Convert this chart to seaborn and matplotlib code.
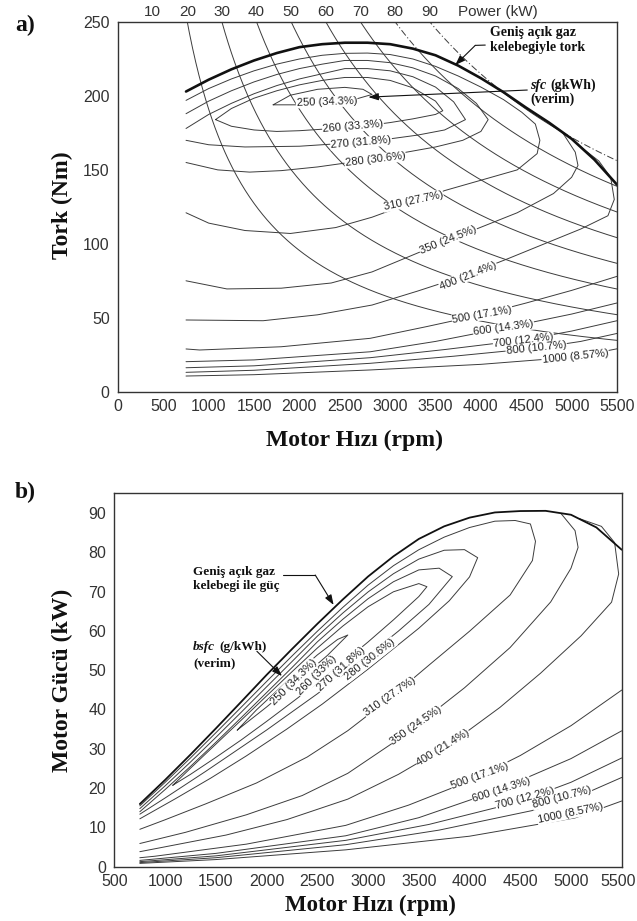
import numpy as np
import matplotlib
matplotlib.use("Agg")
import matplotlib.pyplot as plt
import seaborn as sns

sns.set_theme(style="white")
plt.rcParams["font.family"] = ["Liberation Sans", "DejaVu Sans"]
SERIF = ["Liberation Serif", "DejaVu Serif"]

# tam acik gaz kelebegi torku (rpm, Nm)
WOT_RPM = [750, 1000, 1250, 1500, 1750, 2000, 2250, 2500, 2750, 3000, 3250, 3500,
           3750, 4000, 4250, 4500, 4750, 5000, 5250, 5500]
WOT_NM = [203, 211, 218, 224, 229, 233, 235, 236, 236, 235, 232, 227.5,
          220.5, 212, 202.5, 192, 182, 171, 157, 140]

# sabit guc egrileri (kW)
POWER_KW = [20, 30, 40, 50, 60, 70, 80, 90]
POWER_TICKS = [10, 20, 30, 40, 50, 60, 70, 80, 90]

# bsfc egrileri, tork-hiz duzleminde (rpm, Nm)
C250_RPM = [1710, 1900, 2200, 2500, 2700, 2800, 2600, 2300, 2000, 1710]
C250_NM = [194, 200.5, 204.5, 205.8, 204.5, 201, 197.5, 195.5, 194, 194]

C260_RPM = [1075, 1250, 1500, 1750, 2000, 2250, 2500, 2750, 3000, 3250, 3500, 3580,
            3500, 3250, 3000, 2750, 2500, 2250, 2000, 1750, 1500, 1250, 1075]
C260_NM = [184, 191.5, 198.5, 203.5, 207.5, 210.5, 212.5, 212.5, 210.5, 205.5, 196.5, 190,
           187.5, 184.5, 182, 180, 178.5, 177.5, 176.5, 176, 177, 179.5, 184]

C270_RPM = [750, 1000, 1250, 1500, 1750, 2000, 2250, 2500, 2750, 3000, 3250, 3500, 3700,
            3830, 3600, 3300, 3000, 2500, 2000, 1400, 1000, 750]
C270_NM = [178, 187.5, 195, 201.5, 207, 211.5, 215, 218.5, 218.5, 217, 213, 206, 196,
           184, 177, 173.5, 171, 168, 166, 165.5, 167, 170]

C280_RPM = [750, 1000, 1250, 1500, 1750, 2000, 2250, 2500, 2750, 3000, 3250, 3500, 3750, 3950,
            4080, 4000, 3800, 3500, 3000, 2550, 2200, 1800, 1450, 1100, 750]
C280_NM = [188, 196.5, 203.5, 209.5, 214.5, 218.5, 221.5, 224, 224, 222.5, 219, 213.5, 205, 195,
           184, 176, 170, 165.5, 160, 155, 152, 149.5, 148.5, 150, 155]

C310_RPM = [750, 1000, 1250, 1500, 1750, 2000, 2250, 2500, 2750, 3000, 3250, 3500, 3750, 4000,
            4250, 4450, 4600, 4650, 4620, 4400, 4000, 3600, 3200, 2800, 2400, 1900, 1400,
            1000, 750]
C310_NM = [197, 205, 211.5, 217, 221.5, 225, 227.5, 228.8, 229, 228, 225, 220, 213.5, 206,
           197.5, 189, 181, 170, 161, 150, 143, 136, 127, 118, 111, 107, 109, 114, 121]

C350_RPM = [750, 1200, 1800, 2350, 2800, 3350, 3950, 4400, 4800, 5000, 5070, 5040, 4900]
C350_NM = [75, 69.5, 70, 73.5, 81, 95, 110, 121, 134, 145, 153, 162, 175.2]

C400_RPM = [750, 1600, 2200, 2800, 3300, 3800, 4300, 4700, 5100, 5400, 5470, 5430, 5300, 5080]
C400_NM = [48.5, 48, 52, 58.6, 68, 78, 90, 100, 110, 119, 130, 145, 156, 166.5]

C500_RPM = [750, 900, 1800, 2780, 3400, 4000, 4500, 5000, 5500]
C500_NM = [28.9, 28.2, 30.4, 36.1, 44, 52, 60, 68.5, 78]
C600_RPM = [750, 1500, 2780, 3500, 4250, 5000, 5500]
C600_NM = [20.3, 21.5, 27, 34, 43, 52.5, 60]
C700_RPM = [750, 1500, 2780, 3600, 4475, 5000, 5500]
C700_NM = [16.2, 17.5, 23, 28.5, 35, 41, 48]
C800_RPM = [750, 1500, 2780, 3700, 4615, 5100, 5500]
C800_NM = [13.1, 14.5, 19.2, 24, 29.5, 34, 39.4]
C1000_RPM = [750, 1500, 2780, 4000, 5040, 5500]
C1000_NM = [10.6, 11.5, 14.7, 18.5, 23.5, 29]

CONTOURS = [(C250_RPM, C250_NM), (C260_RPM, C260_NM), (C270_RPM, C270_NM),
            (C280_RPM, C280_NM), (C310_RPM, C310_NM), (C350_RPM, C350_NM),
            (C400_RPM, C400_NM), (C500_RPM, C500_NM), (C600_RPM, C600_NM),
            (C700_RPM, C700_NM), (C800_RPM, C800_NM), (C1000_RPM, C1000_NM)]

# egri etiketleri
LABELS_A = ["250 (34.3%)", "260 (33.3%)", "270 (31.8%)", "280 (30.6%)", "310 (27.7%)",
            "350 (24.5%)", "400 (21.4%)", "500 (17.1%)", "600 (14.3%)", "700 (12.4%)",
            "800 (10.7%)", "1000 (8.57%)"]
LABEL_A_RPM = [2300, 2590, 2680, 2835, 3255, 3640, 3860, 4015, 4250, 4470, 4610, 5040]
LABEL_A_NM = [196, 179.5, 168.5, 157, 129, 102.5, 78.5, 52, 43, 34.5, 29.5, 23.5]
LABEL_A_ROT = [2, 5, 5, 7, 12, 22, 22, 10, 8, 7, 6, 6]

LABELS_B = ["250 (34.3%)", "260 (33%)", "270 (31.8%)", "280 (30.6%)", "310 (27.7%)",
            "350 (24.5%)", "400 (21.4%)", "500 (17.1%)", "600 (14.3%)", "700 (12.2%)",
            "800 (10.7%)", "1000 (8.57%)"]
LABEL_B_RPM = [2265, 2496, 2733, 3022, 3212, 3475, 3738, 4100, 4311, 4550, 4912, 4994]
LABEL_B_KW = [47.0, 48.6, 50.2, 52.7, 43.3, 36.0, 30.3, 23.2, 19.6, 17.4, 17.6, 13.6]
LABEL_B_ROT = [45, 45, 42, 38, 35, 35, 32, 20, 18, 15, 15, 12]

B_XTICKS = [500, 1000, 1500, 2000, 2500, 3000, 3500, 4000, 4500, 5000, 5500]

LINE = "#3c3c3c"
AXC = "#333333"
INK = "#111111"


def to_kw(rpm, nm):
    return np.asarray(nm, float) * np.asarray(rpm, float) / 9549.0


def draw(ax, x, y, lw=0.7, color=LINE, ls="-"):
    sns.lineplot(x=np.asarray(x, float), y=np.asarray(y, float), ax=ax, sort=False,
                 estimator=None, color=color, lw=lw, linestyle=ls, legend=False)


def arrow(ax, tip, tail):
    ax.annotate("", xy=tip, xytext=tail,
                arrowprops=dict(arrowstyle="-|>,head_length=0.5,head_width=0.18",
                                color=INK, lw=0.8, shrinkA=0, shrinkB=0))


def style_axes(ax):
    for sp in ax.spines.values():
        sp.set_color(AXC)
        sp.set_linewidth(1.0)
    ax.tick_params(axis="x", direction="in", length=4, width=0.8, colors=AXC,
                   labelsize=11.5, pad=5)
    ax.tick_params(axis="y", direction="out", length=4, width=0.8, colors=AXC,
                   labelsize=11.5, pad=2)
    ax.set_xlabel("")
    ax.set_ylabel("")


box = dict(boxstyle="square,pad=0.05", fc="white", ec="none")

fig = plt.figure(figsize=(6.37, 9.21), dpi=100)
ax1 = fig.add_axes([0.1852, 0.5747, 0.7834, 0.4014])
ax2 = fig.add_axes([0.1797, 0.0590, 0.7963, 0.4054])

# ---------------- a) tork - hiz ----------------
n = np.linspace(750, 5500, 400)
wot_at_n = np.interp(n, WOT_RPM, WOT_NM)
for p in POWER_KW:
    t = p * 9549.0 / n
    if p < 80:
        draw(ax1, n, t)
        continue
    above = t > wot_at_n
    edges = np.flatnonzero(np.diff(np.r_[0, above.astype(int), 0]))
    for s, e in zip(edges[::2], edges[1::2]):
        draw(ax1, n[max(s - 1, 0):e + 1], t[max(s - 1, 0):e + 1], ls=(0, (7, 2.5, 1.2, 2.5)))
    edges = np.flatnonzero(np.diff(np.r_[0, (~above).astype(int), 0]))
    for s, e in zip(edges[::2], edges[1::2]):
        draw(ax1, n[s:e], t[s:e])

for rpm, nm in CONTOURS:
    draw(ax1, rpm, nm)
draw(ax1, WOT_RPM, WOT_NM, lw=1.9, color=INK)

for txt, x, y, r in zip(LABELS_A, LABEL_A_RPM, LABEL_A_NM, LABEL_A_ROT):
    ax1.text(x, y, txt, fontsize=8, rotation=r, ha="center", va="center",
             rotation_mode="anchor", color="#222222", bbox=box, zorder=5)

ax1.set_xlim(0, 5500)
ax1.set_ylim(0, 250)
ax1.set_xticks(np.arange(0, 5501, 500))
ax1.set_yticks(np.arange(0, 251, 50))
style_axes(ax1)

top = ax1.secondary_xaxis("top", functions=(lambda r: r * 250 / 9549.0,
                                            lambda p: p * 9549.0 / 250))
top.set_xticks(POWER_TICKS)
top.tick_params(length=0, labelsize=11, colors=AXC, pad=2)
top.spines["top"].set_visible(False)
ax1.text(0.762, 1.008, "Power (kW)", transform=ax1.transAxes, fontsize=11,
         color=AXC, ha="center", va="bottom")

# acik gaz kelebegi etiketi
ax1.text(4103, 247, "Geniş açık gaz\nkelebegiyle tork", family=SERIF, weight="bold",
         fontsize=10, ha="left", va="top", linespacing=1.15, color=INK)
draw(ax1, [4048, 3938], [234.4, 234.2], lw=0.8, color=INK)
arrow(ax1, (3717, 220.9), (3938, 234.2))

t_sfc = ax1.text(4544, 207.4, "sfc", family=SERIF, weight="bold", style="italic",
                 fontsize=10, ha="left", va="center", color=INK)
ax1.annotate("(gkWh)", xy=(1, 0.5), xycoords=t_sfc, xytext=(3, 0),
             textcoords="offset points", family=SERIF, weight="bold", fontsize=10,
             ha="left", va="center", color=INK)
ax1.text(4544, 197.8, "(verim)", family=SERIF, weight="bold",
         fontsize=10, ha="left", va="center", color=INK)
arrow(ax1, (2760, 199.2), (4511, 204))

# ---------------- b) guc - hiz ----------------
for rpm, nm in CONTOURS:
    draw(ax2, rpm, to_kw(rpm, nm))
draw(ax2, WOT_RPM, to_kw(WOT_RPM, WOT_NM), lw=1.3, color=INK)

for txt, x, y, r in zip(LABELS_B, LABEL_B_RPM, LABEL_B_KW, LABEL_B_ROT):
    ax2.text(x, y, txt, fontsize=8, rotation=r, ha="center", va="center",
             rotation_mode="anchor", color="#222222", bbox=box, zorder=5)

ax2.set_xlim(500, 5500)
ax2.set_ylim(0, 95)
ax2.set_xticks(B_XTICKS, labels=[str(v) for v in B_XTICKS[:-1]] + [""])
ax2.set_yticks(np.arange(0, 91, 10))
style_axes(ax2)
# son etiket sag kenara sigsin diye biraz sola alinir
ax2.annotate(str(B_XTICKS[-1]), xy=(B_XTICKS[-1], 0), xycoords=("data", "axes fraction"),
             xytext=(10.5, -5), textcoords="offset points", ha="right", va="top",
             fontsize=11.5, color=AXC)

ax2.text(1276, 73.2, "Geniş açık gaz\nkelebegi ile güç", family=SERIF, weight="bold",
         fontsize=9.5, ha="left", va="center", linespacing=1.2, color=INK)
draw(ax2, [2164, 2479], [74.2, 74.2], lw=0.8, color=INK)
arrow(ax2, (2660, 66.6), (2479, 74.2))

t_bsfc = ax2.text(1276, 56.0, "bsfc", family=SERIF, weight="bold", style="italic",
                  fontsize=9.5, ha="left", va="center", color=INK)
ax2.annotate("(g/kWh)", xy=(1, 0.5), xycoords=t_bsfc, xytext=(3, 0),
             textcoords="offset points", family=SERIF, weight="bold", fontsize=9.5,
             ha="left", va="center", color=INK)
ax2.text(1276, 51.8, "(verim)", family=SERIF, weight="bold",
         fontsize=9.5, ha="left", va="center", color=INK)
arrow(ax2, (2151, 48.5), (1904, 54.8))

# eksen basliklari ve panel harfleri
fig.text(62 / 637, 1 - 205 / 921, "Tork (Nm)", rotation=90, ha="center", va="center",
         family=SERIF, weight="bold", fontsize=17, color=INK)
fig.text(355 / 637, 1 - 440 / 921, "Motor Hızı (rpm)", ha="center", va="center",
         family=SERIF, weight="bold", fontsize=17, color=INK)
fig.text(25 / 637, 1 - 25 / 921, "a)", ha="center", va="center",
         family=SERIF, weight="bold", fontsize=17, color=INK)
fig.text(62 / 637, 1 - 680 / 921, "Motor Gücü (kW)", rotation=90, ha="center", va="center",
         family=SERIF, weight="bold", fontsize=17, color=INK)
fig.text(370 / 637, 1 - 905 / 921, "Motor Hızı (rpm)", ha="center", va="center",
         family=SERIF, weight="bold", fontsize=16.5, color=INK)
fig.text(25 / 637, 1 - 492 / 921, "b)", ha="center", va="center",
         family=SERIF, weight="bold", fontsize=17, color=INK)

fig.savefig("out.png", dpi=100)
